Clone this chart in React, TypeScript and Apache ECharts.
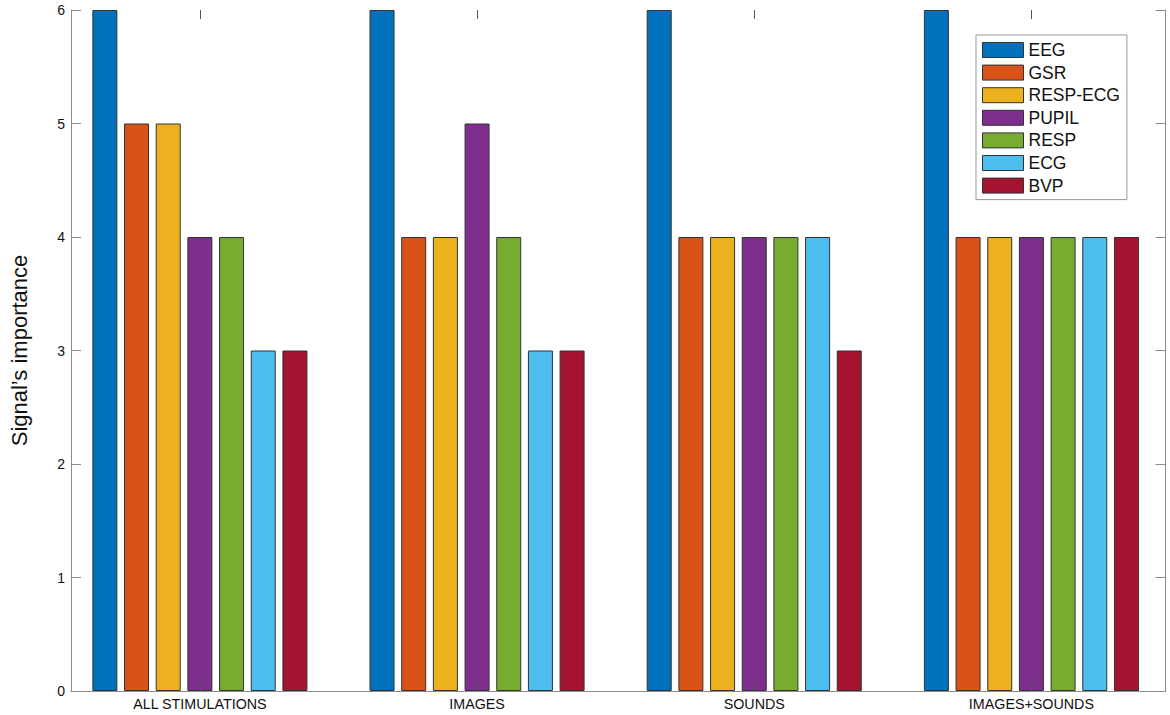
import React, { useEffect, useRef } from "react";
import * as echarts from "echarts";

const categories = ["ALL STIMULATIONS", "IMAGES", "SOUNDS", "IMAGES+SOUNDS"];
const signals = ["EEG", "GSR", "RESP-ECG", "PUPIL", "RESP", "ECG", "BVP"];
const colors = ["#0072BD", "#D95319", "#EDB120", "#7E2F8E", "#77AC30", "#4DBEEE", "#A2142F"];
const EEG = [6, 6, 6, 6];
const GSR = [5, 4, 4, 4];
const RESP_ECG = [5, 4, 4, 4];
const PUPIL = [4, 5, 4, 4];
const RESP = [4, 4, 4, 4];
const ECG = [3, 3, 4, 4];
const BVP = [3, 3, 3, 4];
const seriesValues = [EEG, GSR, RESP_ECG, PUPIL, RESP, ECG, BVP];
const yTicks = [0, 1, 2, 3, 4, 5, 6];

const FONT = "'Liberation Sans', Arial, Helvetica, sans-serif";
const AXIS_GRAY = "#8c8c8c";

export default function App() {
  const ref = useRef<HTMLDivElement>(null);
  useEffect(() => {
    if (!ref.current) return;
    const chart = echarts.init(ref.current, undefined, { renderer: "svg" });
    const option: any = {
      animation: false,
      backgroundColor: "#ffffff",
      textStyle: { fontFamily: FONT },
      grid: [
        { left: 61.3, width: 1109.4, top: 10, bottom: 24, containLabel: false },
        { left: 67, right: 4.5, top: 10, bottom: 24, containLabel: false },
      ],
      legend: {
        orient: "vertical",
        left: 976,
        top: 35,
        icon: "rect",
        itemWidth: 41,
        itemHeight: 15,
        itemGap: 4.6,
        padding: [6, 7, 5, 6],
        borderColor: "#999",
        borderWidth: 1,
        backgroundColor: "#fff",
        data: signals,
        itemStyle: { borderColor: "#333", borderWidth: 1 },
        textStyle: { fontFamily: FONT, fontSize: 17.5, color: "#111", padding: [0, 0, 0, 0] },
      },
      xAxis: [
        {
          type: "category",
          gridIndex: 0,
          data: categories,
          z: 10,
          axisLine: { show: false },
          axisTick: { show: true, inside: true, alignWithLabel: true, length: 10, lineStyle: { color: "#555", width: 1 } },
          axisLabel: { fontFamily: FONT, fontSize: 14.3, color: "#111", margin: 6 },
        },
        {
          type: "category",
          gridIndex: 0,
          position: "top",
          data: categories,
          z: 10,
          axisLine: { show: false },
          axisTick: { show: true, inside: true, alignWithLabel: true, length: 9, lineStyle: { color: "#555", width: 1 } },
          axisLabel: { show: false },
        },
        {
          type: "value",
          gridIndex: 1,
          min: 0,
          max: 1,
          z: 10,
          axisLine: { show: true, onZero: false, lineStyle: { color: AXIS_GRAY, width: 1 } },
          axisTick: { show: false },
          axisLabel: { show: false },
          splitLine: { show: false },
        },
      ],
      yAxis: [
        {
          type: "value",
          gridIndex: 0,
          min: 0,
          max: 6,
          interval: 1,
          show: false,
        },
        {
          type: "value",
          gridIndex: 1,
          min: 0,
          max: 6,
          interval: 1,
          z: 10,
          name: "Signal\u2019s importance",
          nameLocation: "middle",
          nameGap: 41,
          nameTextStyle: { fontFamily: FONT, fontSize: 22, color: "#111" },
          axisLine: { show: true, onZero: false, lineStyle: { color: AXIS_GRAY, width: 1 } },
          axisTick: { show: true, inside: true, length: 10, lineStyle: { color: AXIS_GRAY, width: 1 } },
          axisLabel: {
            fontFamily: FONT,
            fontSize: 14,
            color: "#111",
            margin: 6,
            formatter: (v: number) => (yTicks.includes(v) ? String(v) : ""),
          },
          splitLine: { show: false },
        },
        {
          type: "value",
          gridIndex: 1,
          position: "right",
          min: 0,
          max: 6,
          interval: 1,
          z: 10,
          axisLine: { show: true, onZero: false, lineStyle: { color: AXIS_GRAY, width: 1 } },
          axisTick: { show: true, inside: true, length: 10, lineStyle: { color: AXIS_GRAY, width: 1 } },
          axisLabel: { show: false },
          splitLine: { show: false },
        },
      ],
      series: signals.map((name, i) => ({
        name,
        type: "bar",
        xAxisIndex: 0,
        yAxisIndex: 0,
        data: seriesValues[i],
        barWidth: 25,
        barGap: "26.7%",
        itemStyle: { color: colors[i], borderColor: "#333", borderWidth: 1 },
        emphasis: { disabled: true },
      })),
    };
    chart.setOption(option);
    return () => chart.dispose();
  }, []);
  return (
    <div
      ref={ref}
      style={{ position: "fixed", left: 0, top: 0, width: 1170, height: 715, background: "#fff" }}
    />
  );
}
